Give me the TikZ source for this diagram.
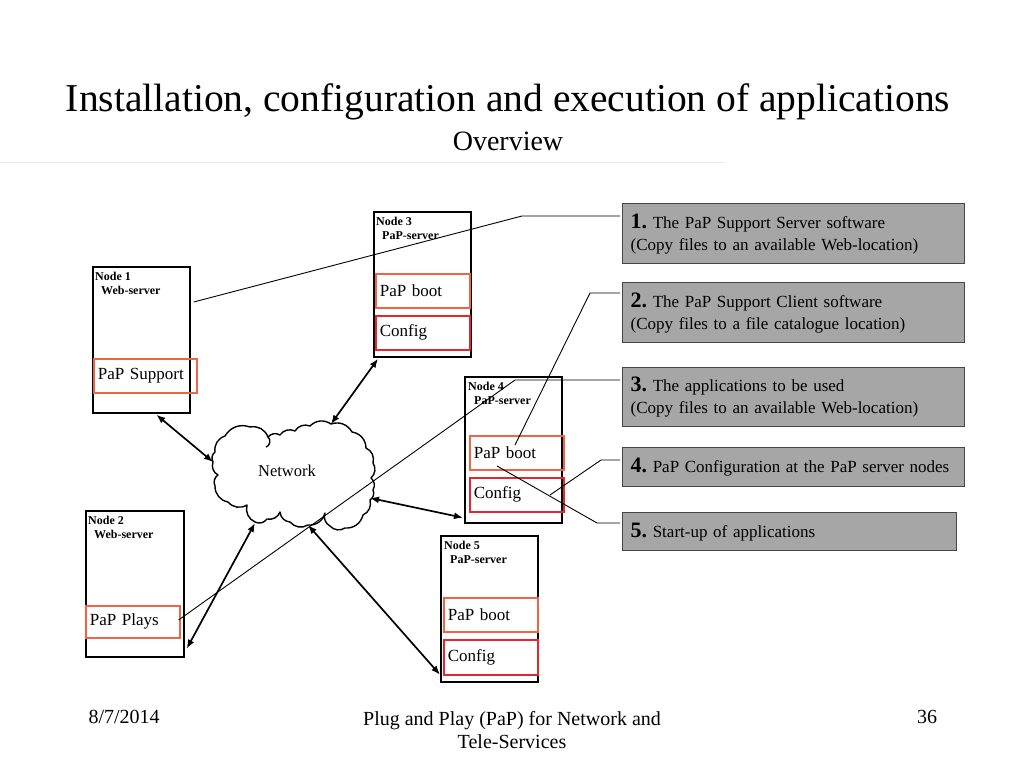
\documentclass[tikz,border=0pt]{standalone}
\usepackage{fontspec}
\setmainfont{Liberation Serif}
\usetikzlibrary{arrows.meta,calc}
\definecolor{boxgray}{RGB}{166,166,166}
\definecolor{boxedge}{RGB}{70,70,70}
\definecolor{bootred}{RGB}{240,100,70}
\definecolor{cfgred}{RGB}{225,40,50}
\definecolor{rulegray}{RGB}{236,236,236}
\newcommand\bignum[1]{{\fontsize{22}{22}\selectfont\bfseries #1}}
\begin{document}
\frenchspacing
\begin{tikzpicture}[x=1pt,y=-1pt,
  srv/.style={draw=black,line width=1.7pt,minimum width=97pt,minimum height=146pt,anchor=north west,inner sep=0pt},
  lbl/.style={anchor=north west,inner sep=0pt,align=left,font=\fontsize{12}{14}\selectfont\bfseries},
  redpart/.style={draw=#1,line width=1.6pt,minimum width=94pt,minimum height=34pt,anchor=north west,inner xsep=4pt,inner ysep=0pt,text width=86pt,align=left,font=\fontsize{17}{20}\selectfont},
  gbox/.style={draw=boxedge,fill=boxgray,line width=1.2pt,minimum width=342pt,anchor=north west,inner xsep=8pt,inner ysep=0pt,text width=326pt,align=left,font=\fontsize{17}{22}\selectfont},
  arr/.style={{Latex[length=9pt,width=7pt]}-{Latex[length=9pt,width=7pt]},line width=1.7pt},
  callout/.style={line width=0.9pt},
  cloudline/.style={line width=1.4pt,line join=round},
]
\useasboundingbox (0,0) rectangle (1024,768);

% title
\node (title) at (508,102) {\fontsize{39.5}{44}\selectfont Installation, configuration and execution of applications};
\node (sub) at (508,141) {\fontsize{28}{32}\selectfont Overview};
\draw[rulegray,line width=1pt] (0,162) -- (725,162);

% server nodes
\node[srv] (n1) at (92,266) {};
\node[srv,minimum height=145pt] (n3) at (373,211) {};
\node[srv] (n4) at (464,376) {};
\node[srv,minimum width=98pt] (n2) at (85,510) {};
\node[srv] (n5) at (440,535) {};

\node[lbl] (l1) at (95,272) {Node 1\\\hspace*{6pt}Web-server};
\node[lbl] (l3) at (376,217) {Node 3\\\hspace*{6pt}PaP-server};
\node[lbl] (l4) at (468,382) {Node 4\\\hspace*{6pt}PaP-server};
\node[lbl] (l2) at (88,516) {Node 2\\\hspace*{6pt}Web-server};
\node[lbl] (l5) at (444,541) {Node 5\\\hspace*{6pt}PaP-server};

% parts
\node[redpart=bootred,minimum width=103pt,text width=95pt] (sup) at (93,358) {PaP Support};
\node[redpart=bootred] (b3) at (375,273) {PaP boot};
\node[redpart=cfgred] (c3) at (375,315) {Config};
\node[redpart=bootred] (b4) at (469,435) {PaP boot};
\node[redpart=cfgred] (c4) at (469,477) {Config};
\node[redpart=bootred,minimum height=32pt] (pl) at (85,605) {PaP Plays};
\node[redpart=bootred] (b5) at (443,597) {PaP boot};
\node[redpart=cfgred,minimum height=35pt] (c5) at (443,639) {Config};

% cloud
\draw[cloudline,fill=white]
 (215,452) to[bend left=40] (225,436) to[bend left=40] (250,427) to[bend left=40] (268,437)
 to[bend left=40] (280,435) to[bend left=40] (295,431) to[bend left=40] (310,426)
 to[bend left=40] (331,424) to[bend left=40] (352,432) to[bend left=40] (366,448)
 to[bend left=40] (373,463) to[bend left=40] (371,478) to[bend left=40] (373,490)
 to[bend left=40] (370,500) to[bend left=40] (363,515) to[bend left=40] (345,528)
 to[bend left=40] (330,526) to[bend left=40] (325,513) to[bend left=40] (308,525)
 to[bend left=40] (290,522) to[bend left=40] (280,512) to[bend left=40] (267,519)
 to[bend left=40] (255,522) to[bend left=40] (247,505) to[bend left=40] (228,502)
 to[bend left=40] (215,486) to[bend left=40] (218,475) to[bend left=40] (213,462)
 to[bend left=40] cycle;
\draw[cloudline] (268,437) to[bend left=70] (266,447);
\node[font=\fontsize{16.5}{20}\selectfont] (net) at (287,471) {Network};
\coordinate (cl1) at (213,462);
\coordinate (cl2) at (331,424);
\coordinate (cl3) at (370,498);
\coordinate (cl4) at (255,523);
\coordinate (cl5) at (308,525);

% arrows
\draw[arr] ($(n1.south)+(15,1)$) -- (cl1);
\draw[arr] ($(n3.south west)+(5,1)$) -- (cl2);
\draw[arr] (cl3) -- ($(n4.south west)+(-1,-6)$);
\draw[arr] ($(n2.south east)+(2,-9)$) -- (cl4);
\draw[arr] (cl5) -- ($(n5.south west)+(0,-8)$);

% grey boxes
\node[gbox,minimum height=60pt] (g1) at (622,203) {\bignum{1.} The PaP Support Server software\\(Copy files to an available Web-location)};
\node[gbox,minimum height=60pt] (g2) at (622,282) {\bignum{2.} The PaP Support Client software\\(Copy files to a file catalogue location)};
\node[gbox,minimum height=59pt] (g3) at (622,367) {\bignum{3.} The applications to be used\\(Copy files to an available Web-location)};
\node[gbox,minimum height=39pt] (g4) at (622,447) {\bignum{4.} PaP Configuration at the PaP server nodes};
\node[gbox,minimum height=38pt,minimum width=334pt,text width=318pt] (g5) at (622,512) {\bignum{5.} Start-up of applications};

% callout lines
\draw[callout] ($(n1.north east)+(3,36)$) -- (522,216) -- ($(g1.north west)+(-2,13)$);
\draw[callout] ($(b4.north west)+(46,10)$) -- (590,293) -- ($(g2.north west)+(-2,11)$);
\draw[callout] ($(pl.north east)+(-2,15)$) -- (515,380) -- ($(g3.north west)+(-2,13)$);
\draw[callout] ($(c4.north west)+(81,18)$) -- (601,460) -- ($(g4.north west)+(-2,13)$);
\draw[callout] ($(b4.north west)+(28,31)$) -- (597,523) -- ($(g5.north west)+(-2,11)$);

% footer
\node[anchor=west,font=\fontsize{20}{23}\selectfont] (date) at (85,717) {8/7/2014};
\node[align=center,font=\fontsize{20}{23}\selectfont] (foot) at (512,730) {Plug and Play (PaP) for Network and\\Tele-Services};
\node[font=\fontsize{20}{23}\selectfont] (page) at (927,717) {36};
\end{tikzpicture}
\end{document}
